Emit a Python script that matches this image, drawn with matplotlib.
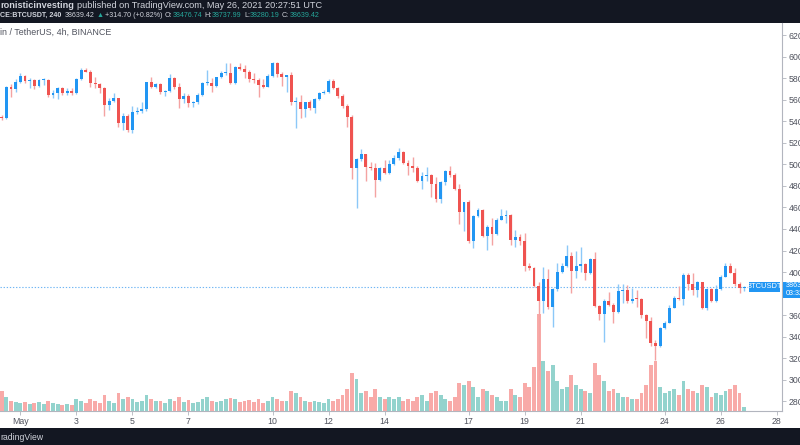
import matplotlib
matplotlib.use('Agg')
import matplotlib.pyplot as plt
from matplotlib.patches import Rectangle
import numpy as np
from datetime import datetime, timedelta

plt.rcParams['font.family'] = ['Liberation Sans', 'DejaVu Sans']

# ---------------- data (BTCUSDT 4h, Binance) ----------------
start_time = datetime(2021, 4, 30, 8)
opens = [54420, 54270, 57200, 57020, 57670, 58170, 57730, 57820, 57300, 57820,
         57850, 56430, 56620, 57110, 56590, 56830, 56590, 57920, 58750, 58600,
         57520, 57420, 57050, 55500, 55910, 56120, 53800, 54520, 53150, 54830,
         54950, 55100, 57610, 57140, 57450, 56740, 56800, 57980, 57140, 56060,
         56370, 55720, 55810, 56430, 57520, 57580, 57300, 58070, 58440, 58500,
         57520, 59000, 58880, 58600, 57920, 57820, 57360, 57210, 58230, 59370,
         58350, 58070, 58290, 55750, 55810, 55130, 55780, 55200, 56060, 56590,
         56680, 57730, 57110, 56370, 55440, 54420, 49630, 50460, 50930, 49780,
         49630, 48550, 49630, 49160, 50000, 50560, 51170, 50150, 49840, 49630,
         48450, 48920, 49010, 48140, 46780, 48390, 49380, 49010, 47710, 45540,
         46470, 42920, 45200, 45760, 43350, 44210, 43530, 44830, 45200, 45300,
         42980, 43290, 42880, 40560, 40410, 38710, 37350, 39360, 36730, 38400,
         40040, 40560, 41490, 40130, 40560, 40720, 39880, 41180, 36850, 36110,
         37320, 36950, 36330, 38240, 38310, 37320, 37500, 37470, 36020, 35490,
         33450, 33140, 34780, 35310, 36700, 37630, 37530, 39730, 38860, 38340,
         39050, 36640, 38400, 37350, 38430, 39570, 40560, 39950, 38860, 38476.74]
highs = [54580, 57270, 57420, 57890, 58440, 58290, 57980, 57920, 57920, 57980,
         57890, 56900, 57210, 57210, 57050, 57050, 58040, 58910, 58970, 58750,
         58130, 57500, 57150, 56120, 56580, 56180, 54730, 54640, 55410, 55350,
         55810, 57670, 58070, 57580, 57580, 56900, 58350, 58070, 57520, 56590,
         56530, 55900, 56590, 57670, 58750, 57980, 58130, 58690, 59370, 59370,
         59120, 59430, 59220, 58750, 58440, 57980, 57920, 58350, 59460, 59460,
         58600, 58290, 58600, 56280, 56430, 55810, 55970, 56190, 56740, 56900,
         57920, 57890, 57210, 56490, 55570, 54580, 50560, 51390, 50960, 50250,
         50090, 49780, 50400, 50400, 50860, 51480, 51270, 50400, 50710, 49840,
         49320, 49720, 49100, 48790, 48480, 49470, 49840, 49160, 48140, 46530,
         46690, 45300, 45920, 45820, 44370, 44990, 44990, 45820, 45760, 45390,
         43900, 43530, 43600, 40810, 40500, 39110, 40440, 40310, 38490, 40850,
         40810, 42510, 41890, 41990, 42300, 40870, 41280, 41890, 36950, 37470,
         38180, 37160, 38890, 38890, 38800, 38490, 38340, 37560, 36110, 35860,
         33700, 34870, 35490, 36950, 37780, 38710, 39880, 39950, 39880, 39200,
         39110, 38490, 38490, 38800, 39730, 40810, 40810, 40350, 39110, 38737.99]
lows = [54110, 54200, 56280, 56740, 57520, 57520, 57050, 56960, 57210, 57360,
        56280, 56120, 56030, 56430, 56430, 56430, 56530, 57820, 58540, 57200,
        57050, 56600, 54520, 55040, 55810, 53490, 53180, 53030, 52880, 54650,
        54790, 54980, 57050, 57050, 56520, 56370, 56740, 56990, 55200, 55660,
        55290, 55350, 55600, 56370, 57360, 56740, 57210, 57980, 58290, 57420,
        57450, 58750, 57980, 57670, 57520, 56280, 57050, 57140, 58130, 58130,
        57300, 56680, 55500, 53400, 54330, 54420, 55040, 54730, 55970, 56500,
        56590, 56990, 56190, 55200, 53490, 48640, 45980, 50310, 48450, 49470,
        47000, 48450, 49070, 49070, 49900, 50400, 50030, 49010, 49320, 48390,
        47680, 48480, 46940, 46530, 46440, 48080, 48850, 47620, 44460, 43840,
        42670, 42200, 45080, 43290, 42050, 42510, 43440, 44830, 44590, 42510,
        42360, 42510, 40130, 40190, 38650, 30000, 36170, 36540, 34870, 38270,
        39950, 40500, 38090, 39420, 40040, 39270, 39820, 36730, 35550, 33540,
        36850, 35240, 36230, 37100, 37160, 37160, 36730, 35710, 33850, 33140,
        31800, 33080, 34690, 35240, 36640, 37410, 36950, 38340, 37870, 37720,
        36540, 36480, 37250, 37250, 38340, 39510, 39880, 38740, 38030, 38280.19]
closes = [54270, 57200, 57020, 57670, 58170, 57730, 57820, 57300, 57820, 57850,
          56430, 56620, 57110, 56590, 56830, 56590, 57920, 58750, 58600, 57520,
          57420, 57050, 55500, 55910, 56120, 53800, 54520, 53150, 54830, 54950,
          55100, 57610, 57140, 57450, 56740, 56800, 57980, 57140, 56060, 56370,
          55720, 55810, 56430, 57520, 57580, 57300, 58070, 58440, 58500, 57520,
          59000, 58880, 58600, 57920, 57820, 57360, 57210, 58230, 59370, 58350,
          58070, 58290, 55750, 55810, 55130, 55780, 55200, 56060, 56590, 56680,
          57730, 57110, 56370, 55440, 54420, 49630, 50460, 50930, 49780, 49630,
          48550, 49630, 49160, 50000, 50560, 51170, 50150, 49840, 49630, 48450,
          48920, 49010, 48140, 46780, 48390, 49380, 49010, 47710, 45540, 46470,
          42920, 45200, 45760, 43350, 44210, 43530, 44830, 45200, 45300, 42980,
          43290, 42880, 40560, 40410, 38710, 37350, 39360, 36730, 38400, 40040,
          40560, 41490, 40130, 40560, 40720, 39880, 41180, 36850, 36110, 37320,
          36950, 36330, 38240, 38310, 37320, 37500, 37470, 36020, 35490, 33450,
          33140, 34780, 35310, 36700, 37630, 37530, 39730, 38860, 38340, 39050,
          36640, 38400, 37350, 38430, 39570, 40560, 39950, 38860, 38480, 38639.42]
volumes = [20, 14, 10, 9, 8,
           9, 7, 8, 9, 7, 10, 8, 7, 6, 7, 6, 12,
           10, 8, 12, 10, 8, 16, 10, 8, 18, 12, 14, 12,
           9, 10, 16, 12, 10, 10, 8, 12, 10, 14, 9, 11,
           8, 9, 12, 14, 10, 9, 10, 12, 13, 12, 9, 10, 11, 9, 12, 8,
           10, 14, 12, 10, 10, 20, 18, 14, 10, 9, 10, 9, 8, 12, 10, 12,
           16, 22, 38, 32, 18, 20, 14, 22, 14, 12, 14,
           12, 14, 10, 12, 10, 14, 16, 10, 18, 20, 16, 12, 10, 14, 28, 26,
           30, 24, 14, 22, 20, 16, 14, 10, 10, 22, 16, 14, 28, 24,
           44, 97, 50, 40, 46, 30, 22, 24, 36, 26, 22, 20, 18, 48, 36,
           30, 20, 22, 18, 14, 14, 12, 12, 18, 26, 46, 50,
           24, 18, 20, 22, 16, 30, 22, 20, 18, 26, 24, 14, 18, 16, 20, 22, 26, 18, 4]
tick_dates = ['2021-05-01', '2021-05-03', '2021-05-05', '2021-05-07', '2021-05-10',
              '2021-05-12', '2021-05-14', '2021-05-17', '2021-05-19', '2021-05-21',
              '2021-05-24', '2021-05-26', '2021-05-28']
tick_labels = ['May', '3', '5', '7', '10', '12', '14', '17', '19', '21', '24', '26', '28']
price_ticks = list(range(28000, 62001, 2000))
last_price = 38639.42

# ---------------- styling ----------------
UP = '#2196F3'
DOWN = '#EF5350'
UP_WICK = '#8CC8F8'
DOWN_WICK = '#F4A3A2'
VOL_UP = '#93D3CD'
VOL_DOWN = '#F8AAA8'
DARK = '#131722'
TEXT = '#50535E'
TEAL = '#26A69A'
WHITE = '#D1D4DC'
NARROW = ['Liberation Sans Narrow', 'Liberation Sans', 'DejaVu Sans']

W, H = 800, 445
fig = plt.figure(figsize=(W / 100, H / 100), dpi=100)
fig.patch.set_facecolor('white')

def fx(px):
    return px / W

def fy(py):
    return 1 - py / H

plot_left, plot_right, plot_top, plot_bottom = 0, 782, 23, 411
rect = [fx(plot_left), fy(plot_bottom), fx(plot_right - plot_left), (plot_bottom - plot_top) / H]

x = np.arange(len(closes))
xlim = (-0.36, 167.1)
ylim = (27107, 63114)

# volume axes (behind)
axv = fig.add_axes(rect, zorder=0)
vcol = [VOL_UP if c >= o else VOL_DOWN for o, c in zip(opens, closes)]
axv.bar(x, volumes, width=0.82, color=vcol, linewidth=0)
axv.set_xlim(*xlim)
axv.set_ylim(0, max(volumes) * 388 / 97)
axv.axis('off')

# price axes
ax = fig.add_axes(rect, zorder=1)
ax.patch.set_alpha(0)
o = np.array(opens, float)
c = np.array(closes, float)
hi = np.array(highs, float)
lo = np.array(lows, float)
up = c >= o
wick_cols = [UP_WICK if u else DOWN_WICK for u in up]
ax.vlines(x, lo, hi, colors=wick_cols, linewidth=1.0, zorder=2)
body_bottom = np.minimum(o, c)
body_h = np.maximum(np.abs(c - o), 90)
ax.bar(x, body_h, bottom=body_bottom, width=0.62,
       color=[UP if u else DOWN for u in up], linewidth=0, zorder=3)

# price line
ax.axhline(last_price, xmin=0, xmax=749 / 782, color='#6FB6F4',
           linestyle=(0, (1.2, 1.6)), linewidth=0.8, zorder=1)

ax.set_xlim(*xlim)
ax.set_ylim(*ylim)

# x ticks from dates
tick_x = [(datetime.strptime(d, '%Y-%m-%d') - start_time) / timedelta(hours=4) for d in tick_dates]
ax.set_xticks(tick_x)
ax.set_xticklabels(tick_labels)
ax.tick_params(axis='x', length=3, width=0.6, color='#B2B5BE', labelsize=6.3,
               labelcolor=TEXT, pad=1)

ax.yaxis.tick_right()
ax.set_yticks(price_ticks)
# the 38000 label sits under the last-price box, as in the original
ax.set_yticklabels(['' if p == 38000 else f'{p}.00' for p in price_ticks])
ax.tick_params(axis='y', length=3, width=0.6, color='#B2B5BE', labelsize=6.3,
               labelcolor=TEXT, pad=2)

for s in ['top', 'left']:
    ax.spines[s].set_visible(False)
for s in ['right', 'bottom']:
    ax.spines[s].set_color('#B2B5BE')
    ax.spines[s].set_linewidth(0.8)

# symbol label on the price line
fig.patches.append(Rectangle((fx(749), fy(291.8)), fx(31), 10 / H, transform=fig.transFigure,
                             facecolor=UP, edgecolor='none', zorder=5))
fig.text(fx(764.5), fy(286.8), 'BTCUSDT', color='white', fontsize=5.4, family=NARROW,
         ha='center', va='center', zorder=6)
fig.patches.append(Rectangle((fx(783), fy(297.5)), fx(20), 16 / H, transform=fig.transFigure,
                             facecolor=UP, edgecolor='none', zorder=5))
fig.text(fx(786), fy(285.3), f'{last_price:.2f}', color='white', fontsize=5.2,
         ha='left', va='center', zorder=6)
fig.text(fx(786), fy(293.6), '03:32:09', color='white', fontsize=5.2,
         ha='left', va='center', zorder=6)

# header / footer bands
fig.patches.append(Rectangle((0, fy(23)), 1, 23 / H, transform=fig.transFigure,
                             facecolor=DARK, edgecolor='none', zorder=0))
fig.patches.append(Rectangle((0, 0), 1, 17 / H, transform=fig.transFigure,
                             facecolor=DARK, edgecolor='none', zorder=0))

renderer = fig.canvas.get_renderer()

def segments(x0, y, parts, fs=6.3, family=None):
    xx = x0
    for s, col, wt, gap in parts:
        t = fig.text(fx(xx), fy(y), s, color=col, fontsize=fs, fontweight=wt,
                     ha='left', va='center', zorder=6,
                     family=family if family else plt.rcParams['font.family'])
        bb = t.get_window_extent(renderer=renderer)
        xx += bb.width + gap

segments(0, 6, [('ronisticinvesting', WHITE, 'bold', 3),
                ('published on TradingView.com, May 26, 2021 20:27:51 UTC', WHITE, 'normal', 0)],
         fs=6.6)
segments(0, 15.5, [('CE:BTCUSDT, 240', WHITE, 'bold', 3),
                   ('38639.42', WHITE, 'normal', 2),
                   ('▲', TEAL, 'normal', 1.5),
                   ('+314.70 (+0.82%)', WHITE, 'normal', 2.5),
                   ('O:', WHITE, 'normal', 0), ('38476.74', TEAL, 'normal', 2.5),
                   ('H:', WHITE, 'normal', 0), ('38737.99', TEAL, 'normal', 2.5),
                   ('L:', WHITE, 'normal', 0), ('38280.19', TEAL, 'normal', 2.5),
                   ('C:', WHITE, 'normal', 0), ('38639.42', TEAL, 'normal', 0)],
         fs=5.1, family=NARROW)

fig.text(fx(0), fy(32), 'in / TetherUS, 4h, BINANCE', color=TEXT, fontsize=6.4,
         ha='left', va='center')
fig.text(fx(0), fy(437), 'radingView', color=WHITE, fontsize=6.2,
         ha='left', va='center')

fig.savefig('out.png', dpi=100)
